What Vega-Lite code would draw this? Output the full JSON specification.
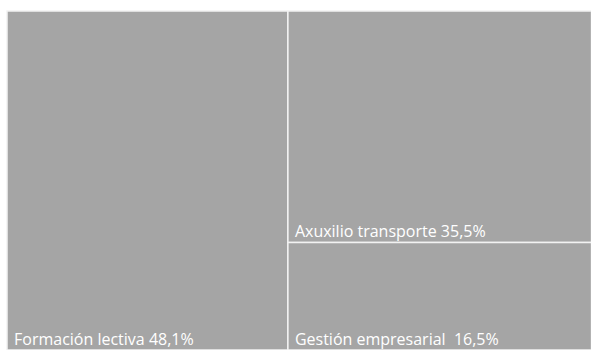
{
  "$schema": "https://vega.github.io/schema/vega-lite/v6.json",
  "width": 584,
  "height": 339,
  "autosize": {"type": "none"},
  "padding": {"left": 7, "top": 11, "right": 0, "bottom": 0},
  "background": "white",
  "config": {"view": {"stroke": null}},
  "data": {
    "values": [
      {"name": "Formación lectiva", "label": "Formación lectiva 48,1%", "pct": 48.1, "col": "A"},
      {"name": "Axuxilio transporte", "label": "Axuxilio transporte 35,5%", "pct": 35.5, "col": "B"},
      {"name": "Gestión empresarial", "label": "Gestión empresarial\u00a0 16,5%", "pct": 16.5, "col": "B"}
    ]
  },
  "transform": [
    {"stack": "pct", "groupby": [], "sort": [{"field": "col"}], "as": ["sx0", "sx1"]},
    {"joinaggregate": [{"op": "min", "field": "sx0", "as": "cx0"}, {"op": "max", "field": "sx1", "as": "cx1"}], "groupby": ["col"]},
    {"stack": "pct", "groupby": ["col"], "sort": [{"field": "pct", "order": "ascending"}], "offset": "normalize", "as": ["y0", "y1"]}
  ],
  "encoding": {
    "x": {"field": "cx0", "type": "quantitative", "scale": {"domain": [0, 100], "nice": false, "zero": false}, "axis": null},
    "y": {"field": "y0", "type": "quantitative", "scale": {"domain": [0, 1], "nice": false}, "axis": null}
  },
  "layer": [
    {
      "mark": {"type": "rect", "fill": "#a5a5a5", "stroke": "#f2f2f2", "strokeWidth": 1.5},
      "encoding": {
        "x2": {"field": "cx1"},
        "y2": {"field": "y1"}
      }
    },
    {
      "mark": {"type": "text", "align": "left", "baseline": "alphabetic", "dx": 7, "dy": -5, "color": "white", "font": "Open Sans", "fontSize": 16},
      "encoding": {
        "text": {"field": "label"}
      }
    }
  ]
}
